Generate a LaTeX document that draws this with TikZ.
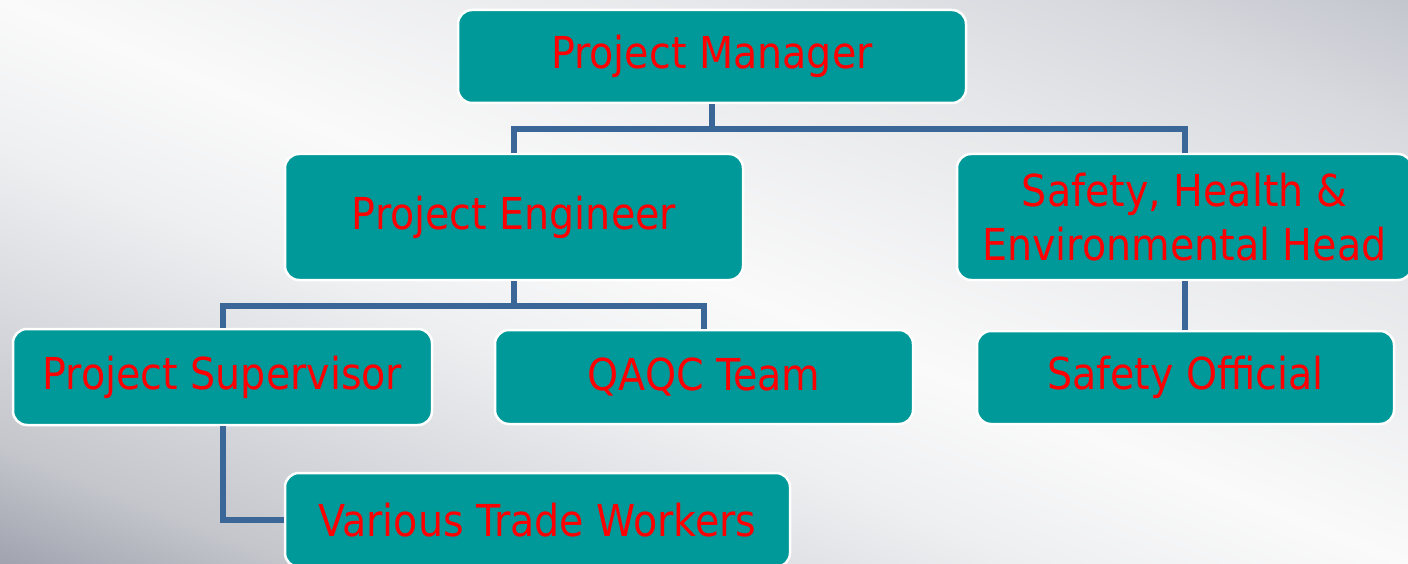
\documentclass[tikz,border=0pt]{standalone}
\usepackage{fontspec}
\setmainfont{DejaVu Sans Condensed}
\definecolor{boxteal}{HTML}{009999}
\definecolor{linkblue}{HTML}{3A6698}
\definecolor{bgA}{HTML}{9EA1AD}
\definecolor{bgB}{HTML}{C4C6CC}
\definecolor{bgC}{HTML}{D5D6DB}
\definecolor{bgD}{HTML}{EEEFF1}
\definecolor{bgE}{HTML}{FAFAFA}
\definecolor{bgF}{HTML}{E6E7EA}
\definecolor{bgG}{HTML}{D8D9DE}
\definecolor{bgH}{HTML}{C3C5CE}
\pgfdeclareverticalshading{backdrop}{100bp}{color(0bp)=(bgA); color(25bp)=(bgA);
  color(30.5bp)=(bgB); color(35.5bp)=(bgC); color(43.5bp)=(bgD); color(50bp)=(bgE);
  color(62.5bp)=(bgF); color(69bp)=(bgG); color(75bp)=(bgH); color(100bp)=(bgH)}
\begin{document}
\begin{tikzpicture}[x=1pt,y=-1pt,
  role/.style={draw=white,line width=2.5pt,fill=boxteal,rounded corners=14pt,
    text=red,font=\fontsize{44}{54}\selectfont,align=center,inner sep=0pt},
  link/.style={draw=linkblue,line width=6pt}]
% Background
\useasboundingbox (0,0) rectangle (1408,564);
\begin{scope}
\clip (0,0) rectangle (1408,564);
\begin{scope}[transform canvas={shift={(704,282)},rotate=-21.83}]
\shade[shading=backdrop] (-800,-530) rectangle (800,530);
\end{scope}
\end{scope}

% Boxes
\node[role,minimum width=508pt,minimum height=93pt] (pm) at (712,56.5) {Project Manager};
\node[role,minimum width=458pt,minimum height=126pt] (pe) at (514,217) {Project Engineer};
\node[role,minimum width=455pt,minimum height=126pt] (she) at (1184.5,217) {Safety, Health \&\\Environmental Head};
\node[role,minimum width=419pt,minimum height=96pt] (ps) at (222.5,377) {Project Supervisor};
\node[role,minimum width=418pt,minimum height=94pt] (qa) at (704,377) {QAQC Team};
\node[role,minimum width=417pt,minimum height=93pt] (so) at (1185.5,377.5) {Safety Official};
\node[role,minimum width=505pt,minimum height=94pt] (vw) at (537.5,520) {Various Trade Workers};

% Connectors
\draw[link] (pm.south) -- ++(0,25) -| (pe.north);
\draw[link] (pm.south) -- ++(0,25) -| (she.north);
\draw[link] (pe.south) -- ++(0,25) -| (ps.north);
\draw[link] (pe.south) -- ++(0,25) -| (qa.north);
\draw[link] (she.south) -- (she.south |- so.north);
\draw[link] (ps.south) |- (vw.west);
\end{tikzpicture}
\end{document}
